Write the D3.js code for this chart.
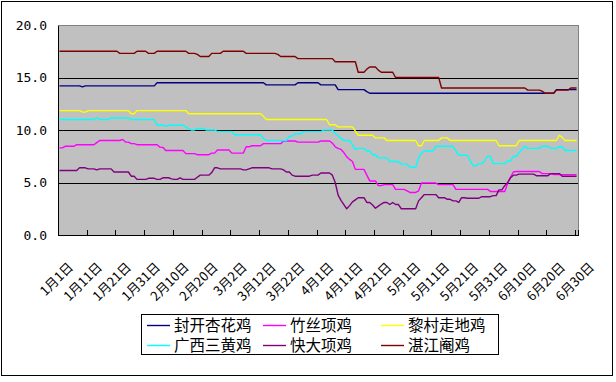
<!DOCTYPE html>
<html>
<head>
<meta charset="utf-8">
<script src="https://cdn.jsdelivr.net/npm/d3@7/dist/d3.min.js"></script>
<style>
  html, body { margin: 0; padding: 0; background: #fff; }
  svg { display: block; }
</style>
</head>
<body>
<svg id="chart" width="616" height="382"></svg>
<script>
// ---------- DATA ----------
const startDate = new Date(2023, 0, 1);
const endDate = new Date(2023, 6, 1);
const categories = d3.timeDay.range(startDate, endDate); // 1月1日 .. 6月30日 (181 days)

const tickLabels = ["1月1日","1月11日","1月21日","1月31日","2月10日","2月20日","3月2日","3月12日","3月22日","4月1日",
  "4月11日","4月21日","5月1日","5月11日","5月21日","5月31日","6月10日","6月20日","6月30日"];

const yTicks = [0, 5, 10, 15, 20];

const seriesNames = ["封开杏花鸡", "竹丝项鸡", "黎村走地鸡", "广西三黄鸡", "快大项鸡", "湛江阉鸡"];
const seriesColors = ["#000080", "#FF00FF", "#FFFF00", "#00FFFF", "#800080", "#800000"];

const fengkai = [
  14.2,14.2,14.2,14.2,14.2,14.2,14.2,14.2,14.1,14.2,
  14.2,14.2,14.2,14.2,14.2,14.2,14.2,14.2,14.2,14.2,
  14.2,14.2,14.2,14.2,14.2,14.2,14.2,14.2,14.2,14.2,
  14.2,14.2,14.2,14.2,14.5,14.5,14.5,14.5,14.5,14.5,
  14.5,14.5,14.5,14.5,14.5,14.5,14.5,14.5,14.5,14.5,
  14.5,14.5,14.5,14.5,14.5,14.5,14.5,14.5,14.5,14.5,
  14.5,14.5,14.5,14.5,14.5,14.5,14.5,14.5,14.5,14.5,
  14.5,14.5,14.3,14.3,14.3,14.3,14.3,14.3,14.3,14.3,
  14.3,14.3,14.3,14.5,14.5,14.5,14.5,14.5,14.5,14.5,
  14.5,14.3,14.3,14.3,14.3,14.3,14.3,13.85,13.85,13.85,
  13.85,13.85,13.85,13.85,13.85,13.85,13.85,13.65,13.5,13.5,
  13.5,13.5,13.5,13.5,13.5,13.5,13.5,13.5,13.5,13.5,
  13.5,13.5,13.5,13.5,13.5,13.5,13.5,13.5,13.5,13.5,
  13.5,13.5,13.5,13.5,13.5,13.5,13.5,13.5,13.5,13.5,
  13.5,13.5,13.5,13.5,13.5,13.5,13.5,13.5,13.5,13.5,
  13.5,13.5,13.5,13.5,13.5,13.5,13.5,13.5,13.5,13.5,
  13.5,13.5,13.5,13.5,13.5,13.5,13.5,13.5,13.5,13.5,
  13.5,13.5,13.5,13.85,13.85,13.85,13.85,13.85,13.85,13.85,
  13.85
];

const zhusi = [
  8.3,8.3,8.45,8.45,8.45,8.45,8.6,8.6,8.6,8.6,
  8.6,8.6,8.6,8.8,9.0,9.0,9.0,9.0,9.0,9.0,
  9.0,9.0,9.1,8.85,8.85,8.7,8.7,8.6,8.6,8.6,
  8.6,8.6,8.6,8.6,8.6,8.35,8.35,8.05,8.05,8.05,
  8.05,8.05,8.05,8.05,7.75,7.75,7.75,7.75,7.65,7.65,
  7.65,7.65,7.65,7.8,7.8,8.1,8.1,8.1,8.1,8.1,
  7.8,7.8,7.8,7.8,7.8,8.4,8.4,8.5,8.5,8.5,
  8.5,8.7,8.7,8.7,8.7,8.7,8.7,8.7,8.95,8.95,
  8.95,8.95,8.95,8.85,8.85,8.85,8.85,8.85,8.85,8.85,
  8.85,8.95,8.95,8.95,8.95,8.75,8.4,8.25,8.15,7.85,
  7.45,7.2,7.0,6.25,6.25,6.25,6.25,5.7,5.15,5.15,
  5.15,4.7,4.7,4.8,4.8,4.8,4.8,4.35,4.35,4.35,
  4.35,4.2,4.05,4.05,4.05,4.2,4.95,4.95,4.95,4.95,
  4.95,4.95,4.8,4.8,4.8,4.8,4.8,4.8,4.35,4.35,
  4.35,4.35,4.35,4.35,4.35,4.35,4.35,4.35,4.35,4.35,
  4.15,4.15,4.15,4.15,4.15,4.15,4.9,5.5,6.0,6.05,
  6.05,6.05,6.05,6.05,6.05,6.05,6.05,6.05,5.85,5.85,
  5.85,5.85,5.75,5.75,5.75,5.75,5.75,5.75,5.75,5.75,
  5.75
];

const licun = [
  11.85,11.85,11.85,11.85,11.85,11.85,11.85,11.85,11.7,11.7,
  11.85,11.85,11.85,11.85,11.85,11.85,11.85,11.85,11.85,11.85,
  11.85,11.85,11.85,11.85,11.85,11.55,11.55,11.85,11.85,11.85,
  11.85,11.85,11.85,11.85,11.85,11.85,11.85,11.85,11.85,11.85,
  11.85,11.85,11.85,11.85,11.85,11.55,11.55,11.55,11.55,11.55,
  11.55,11.55,11.55,11.55,11.55,11.55,11.55,11.55,11.55,11.55,
  11.55,11.55,11.55,11.55,11.55,11.55,11.55,11.55,11.55,11.55,
  11.55,11.3,11.0,11.0,11.0,11.0,11.0,11.0,11.0,11.0,
  11.0,11.0,11.0,11.0,11.0,11.0,11.0,11.0,11.0,11.0,
  11.0,11.0,11.0,11.0,10.5,10.5,10.5,10.3,10.3,10.3,
  10.3,10.3,10.3,9.9,9.5,9.5,9.5,9.5,9.5,9.5,
  9.25,9.25,9.25,9.25,9.0,9.0,9.0,9.0,9.0,9.0,
  9.0,9.0,9.0,9.0,9.0,8.5,8.5,9.0,9.0,9.0,
  9.0,9.0,9.0,9.25,9.25,9.25,9.0,9.0,9.0,9.0,
  9.0,9.0,9.0,9.0,9.0,9.0,9.0,9.0,9.0,9.0,
  9.0,9.0,9.0,8.5,8.5,8.5,8.5,8.5,8.5,8.5,
  9.0,9.0,9.0,9.0,9.0,9.0,9.0,9.0,9.0,9.0,
  9.0,9.0,9.0,9.0,9.5,9.3,9.0,9.0,9.0,9.0,
  9.0
];

const guangxi = [
  11.0,11.0,11.0,11.0,11.0,11.0,11.0,11.0,11.0,11.0,
  11.0,11.0,11.0,11.15,11.0,11.0,11.0,11.0,11.15,11.15,
  11.15,11.15,11.15,11.15,11.15,11.0,11.0,11.0,11.0,11.0,
  11.0,11.0,11.0,11.0,10.45,10.45,10.45,10.35,10.45,10.45,
  10.45,10.45,10.45,10.45,10.3,10.1,10.0,10.0,10.15,10.15,
  10.15,10.0,10.0,10.0,10.0,9.85,9.85,9.85,9.85,9.85,
  9.85,9.55,9.55,9.55,9.55,9.55,9.55,9.55,9.55,9.55,
  9.55,9.2,9.0,9.0,9.0,9.0,9.0,9.0,9.0,9.0,
  9.4,9.4,9.65,9.65,9.65,9.85,9.85,9.85,9.85,9.85,
  9.85,9.85,10.0,10.0,10.0,10.0,9.65,9.45,9.2,9.0,
  9.0,9.0,8.6,8.15,8.25,8.25,8.25,8.0,8.0,7.65,
  7.65,7.35,7.35,7.35,7.35,7.0,7.0,7.0,7.0,6.75,
  6.75,6.75,6.45,6.45,6.45,7.35,7.8,8.0,8.0,8.0,
  8.0,8.45,8.45,8.45,8.45,8.45,8.45,8.45,8.0,7.6,
  7.6,7.6,7.6,7.05,6.6,6.6,6.8,6.8,7.05,7.5,
  7.5,6.8,6.8,6.8,6.8,6.8,7.05,7.05,7.5,7.5,
  7.85,8.15,8.45,8.25,8.25,8.25,8.25,8.25,8.45,8.45,
  8.45,8.25,8.25,8.25,8.4,8.4,8.05,8.05,8.05,8.05,
  8.05
];

const kuaida = [
  6.15,6.15,6.15,6.15,6.15,6.15,6.15,6.4,6.4,6.4,
  6.3,6.3,6.3,6.2,6.3,6.3,6.3,6.3,6.3,6.0,
  6.0,6.0,6.0,6.0,6.0,5.6,5.6,5.3,5.3,5.3,
  5.3,5.4,5.4,5.4,5.3,5.3,5.45,5.45,5.45,5.35,
  5.3,5.3,5.45,5.3,5.3,5.3,5.3,5.3,5.5,5.7,
  5.7,5.7,5.7,5.95,6.4,6.4,6.3,6.3,6.3,6.3,
  6.3,6.3,6.3,6.3,6.2,6.2,6.3,6.4,6.4,6.4,
  6.4,6.4,6.4,6.4,6.3,6.3,6.3,6.3,6.2,6.0,
  6.0,5.7,5.6,5.6,5.6,5.6,5.6,5.6,5.7,5.7,
  5.7,5.9,5.9,5.9,5.9,5.7,5.0,3.8,3.3,2.9,
  2.5,2.8,3.15,3.35,3.55,3.55,3.55,3.1,3.1,2.85,
  2.55,2.75,2.95,3.1,3.1,2.9,3.1,2.9,2.9,2.5,
  2.5,2.5,2.5,2.5,2.5,3.25,3.55,3.85,3.85,3.85,
  3.85,3.85,3.55,3.55,3.55,3.4,3.4,3.25,3.25,3.1,
  3.55,3.55,3.5,3.5,3.5,3.5,3.5,3.65,3.65,3.65,
  3.65,3.75,3.75,4.3,4.3,4.7,5.0,5.45,5.7,5.7,
  5.8,5.8,5.8,5.8,5.8,5.8,5.65,5.65,5.65,5.65,
  5.65,5.85,5.85,5.85,5.85,5.6,5.6,5.6,5.6,5.6,
  5.6
];

const zhanjiang = [
  17.5,17.5,17.5,17.5,17.5,17.5,17.5,17.5,17.5,17.5,
  17.5,17.5,17.5,17.5,17.5,17.5,17.5,17.5,17.5,17.5,
  17.5,17.3,17.3,17.3,17.3,17.3,17.3,17.5,17.5,17.5,
  17.5,17.3,17.3,17.3,17.5,17.5,17.5,17.5,17.5,17.5,
  17.5,17.5,17.5,17.5,17.5,17.3,17.3,17.3,17.2,17.0,
  17.0,17.0,17.0,17.3,17.3,17.3,17.3,17.5,17.5,17.5,
  17.5,17.5,17.5,17.5,17.5,17.3,17.3,17.3,17.3,17.3,
  17.3,17.3,17.3,17.3,17.3,17.3,17.2,17.0,17.0,17.0,
  17.0,17.0,17.0,16.8,16.8,16.8,16.8,16.8,16.8,16.8,
  16.8,16.8,16.8,16.8,16.8,16.8,16.5,16.5,16.5,16.5,
  16.5,16.5,16.5,16.5,15.5,15.5,15.5,15.8,16.0,16.0,
  16.0,15.7,15.5,15.5,15.5,15.5,15.5,15.0,15.0,15.0,
  15.0,15.0,15.0,15.0,15.0,15.0,15.0,15.0,15.0,15.0,
  15.0,15.0,15.0,14.0,14.0,14.0,14.0,14.0,14.0,14.0,
  14.0,14.0,14.0,14.0,14.0,14.0,14.0,14.0,14.0,14.0,
  14.0,14.0,14.0,14.0,14.0,14.0,14.0,14.0,14.0,14.0,
  14.0,14.0,14.0,13.8,13.8,13.8,13.8,13.8,13.7,13.5,
  13.5,13.5,13.5,13.8,13.8,13.8,13.8,13.8,14.0,14.0,
  14.0
];

const seriesValues = [fengkai, zhusi, licun, guangxi, kuaida, zhanjiang];

// ---------- CHART ----------
const svg = d3.select("#chart");
const plot = { left: 58, top: 25, right: 578, bottom: 235 };

// outer frame
svg.append("rect")
  .attr("x", 1.5).attr("y", 1.5).attr("width", 611).attr("height", 374)
  .attr("fill", "#fff").attr("stroke", "#000").attr("stroke-width", 1);

const n = categories.length;
const xEdge = d3.scaleLinear().domain([0, n]).range([plot.left, plot.right]);
const x = i => xEdge(i + 0.5);
const y = d3.scaleLinear().domain([0, 20]).range([plot.bottom, plot.top]);

// plot background
svg.append("rect")
  .attr("x", plot.left).attr("y", plot.top)
  .attr("width", plot.right - plot.left).attr("height", plot.bottom - plot.top)
  .attr("fill", "#C0C0C0").attr("stroke", "#808080").attr("stroke-width", 1)
  .attr("shape-rendering", "crispEdges");

// gridlines
svg.append("g").selectAll("line")
  .data(yTicks.filter(v => v > 0 && v < 20))
  .join("line")
  .attr("x1", plot.left).attr("x2", plot.right)
  .attr("y1", d => Math.round(y(d)) + 0.5).attr("y2", d => Math.round(y(d)) + 0.5)
  .attr("stroke", "#000").attr("stroke-width", 1);

// y axis labels
const yAxis = d3.axisLeft(y).tickValues(yTicks).tickSize(0).tickPadding(11).tickFormat(d3.format(".1f"));
const gy = svg.append("g").attr("transform", `translate(${plot.left},0)`).call(yAxis);
gy.select(".domain").attr("stroke", "#000").attr("shape-rendering", "crispEdges");
gy.selectAll("text")
  .attr("font-family", "'DejaVu Sans Mono', monospace")
  .attr("font-size", 13).attr("fill", "#000");

// x axis ticks (every 10 categories, between categories)
const tickIdx = d3.range(0, n + 1, 10).concat([n]);
const xAxis = d3.axisBottom(xEdge).tickValues(tickIdx).tickSize(-5).tickFormat("");
const gx = svg.append("g").attr("transform", `translate(0,${plot.bottom})`).call(xAxis);
gx.select(".domain").attr("stroke", "#000").attr("shape-rendering", "crispEdges");
gx.selectAll(".tick line").attr("stroke", "#000").attr("shape-rendering", "crispEdges");

// x labels rotated -45
const labelPos = d3.scaleLinear().domain([0, tickLabels.length - 1]).range([74, 595]);
svg.append("g").selectAll("text")
  .data(tickLabels)
  .join("text")
  .attr("transform", (d, i) => `translate(${labelPos(i)},268) rotate(-45)`)
  .attr("text-anchor", "end")
  .attr("font-family", "'Noto Sans CJK SC', sans-serif")
  .attr("font-size", 13)
  .attr("fill", "#000")
  .text(d => d);

// lines
const line = d3.line().x((d, i) => x(i)).y(d => y(d));
svg.append("g").selectAll("path")
  .data(seriesValues)
  .join("path")
  .attr("d", d => line(d))
  .attr("fill", "none")
  .attr("stroke", (d, i) => seriesColors[i])
  .attr("stroke-width", 1.4)
  .attr("stroke-linejoin", "round");

// legend
const legend = svg.append("g");
legend.append("rect")
  .attr("x", 141.5).attr("y", 314.5).attr("width", 357).attr("height", 40)
  .attr("fill", "#fff").attr("stroke", "#000").attr("stroke-width", 1);
const colX = [147, 263, 381];
const rowY = [325, 345];
const items = legend.selectAll("g.item")
  .data(seriesNames)
  .join("g")
  .attr("class", "item")
  .attr("transform", (d, i) => `translate(${colX[i % 3]},${rowY[Math.floor(i / 3)]})`);
items.append("line")
  .attr("x1", 0).attr("x2", 23).attr("y1", 0.5).attr("y2", 0.5)
  .attr("stroke", (d, i) => seriesColors[i]).attr("stroke-width", 1.4);
items.append("text")
  .attr("x", 27).attr("y", 0).attr("dy", "0.36em")
  .attr("font-family", "'Noto Sans CJK SC', sans-serif")
  .attr("font-size", 15.5)
  .attr("fill", "#000")
  .text(d => d);
</script>
</body>
</html>
